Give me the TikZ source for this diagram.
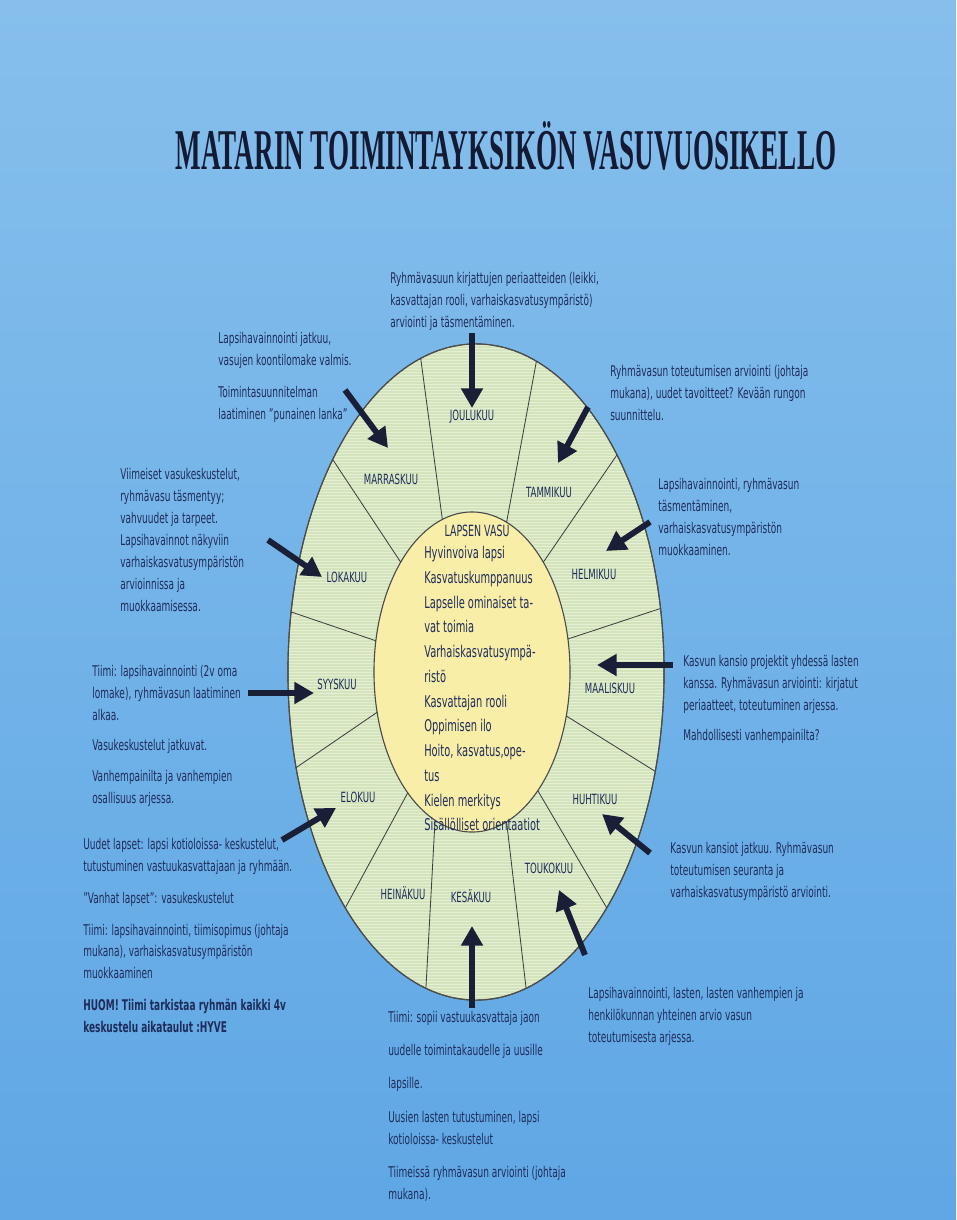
\documentclass[tikz,border=0pt]{standalone}
\usepackage{fontspec}
\setmainfont{DejaVu Sans}[FakeStretch=0.61]
\newfontfamily\titlefont{Liberation Serif}[FakeStretch=0.47]
\usetikzlibrary{arrows.meta, shapes.geometric}

\definecolor{skytop}{HTML}{86BFEC}
\definecolor{skybottom}{HTML}{5FA7E5}
\definecolor{ringgreen}{HTML}{D3E4BC}
\definecolor{ringstripe}{HTML}{E4EFD3}
\definecolor{hubyellow}{HTML}{F8EEA8}
\definecolor{inktext}{HTML}{1F2C5A}
\definecolor{inkarrow}{HTML}{1A1F38}
\definecolor{inktitle}{HTML}{141A33}

\begin{document}
\begin{tikzpicture}[x=0.025cm, y=-0.025cm,
    infotext/.style={anchor=north west, align=left, inner sep=0pt, text=inktext,
      font=\fontsize{10.5}{15.6}\selectfont},
    monthlabel/.style={inner sep=0pt, text=inktext, font=\fontsize{10}{12}\selectfont},
    bigarrow/.style={draw=inkarrow, line width=4.2pt, -{Triangle[length=14pt, width=15pt]}},
    spoke/.style={draw=black!75, line width=0.6pt}]

  % page
  \fill[top color=skytop, bottom color=skybottom] (0,0) rectangle (956,1220);
  \useasboundingbox (0,0) rectangle (956,1220);

  \node (title) [text=inktitle, inner sep=0pt] at (506,146)
    {\titlefont\bfseries\fontsize{41}{41}\selectfont MATARIN TOIMINTAYKSIKÖN VASUVUOSIKELLO};

  % the clock
  \node (ring) [ellipse, draw=black!70, line width=0.8pt, fill=ringgreen,
    minimum width=9.4cm, minimum height=16.4cm, inner sep=0pt, outer sep=0pt] at (476,672) {};
  \begin{scope}
    \clip (476,672) ellipse [x radius=4.68cm, y radius=8.18cm];
    \foreach \y in {345,348,...,1000}
      \draw[ringstripe, line width=0.6pt] (280,\y) -- (670,\y);
  \end{scope}
  \draw[black!70, line width=0.8pt] (ring.center) ellipse [x radius=4.7cm, y radius=8.2cm];
  \node (hub) [ellipse, draw=black!70, line width=0.8pt, fill=hubyellow,
    minimum width=4.9cm, minimum height=8cm, inner sep=0pt, outer sep=0pt] at (472,672) {};

  \foreach \outer/\inner in {100.5/101, 79.3/77.4, 57.6/57.8, 19.7/19.5, 331.3/335.4,
      299.2/299.3, 279.7/283.9, 261.8/256.1, 241/242.9, 208.3/203.8, 162/162.1, 124.4/123.4}
    \draw[spoke] (hub.\inner) -- (ring.\outer);

  % months
  \node (joulukuu)  [monthlabel] at (472,417) {JOULUKUU};
  \node (tammikuu)  [monthlabel] at (549,492) {TAMMIKUU};
  \node (helmikuu)  [monthlabel] at (594,574) {HELMIKUU};
  \node (maaliskuu) [monthlabel] at (610,688) {MAALISKUU};
  \node (huhtikuu)  [monthlabel] at (595,799) {HUHTIKUU};
  \node (toukokuu)  [monthlabel] at (549,868) {TOUKOKUU};
  \node (kesakuu)   [monthlabel] at (471,896) {KESÄKUU};
  \node (heinakuu)  [monthlabel] at (403,893) {HEINÄKUU};
  \node (elokuu)    [monthlabel] at (358,797) {ELOKUU};
  \node (syyskuu)   [monthlabel] at (337,684) {SYYSKUU};
  \node (lokakuu)   [monthlabel] at (347,577) {LOKAKUU};
  \node (marraskuu) [monthlabel] at (391,479) {MARRASKUU};

  % centre
  \node (vasutitle) [monthlabel, font=\fontsize{11}{12}\selectfont] at (477,531) {LAPSEN VASU};
  \node (vasulist) [infotext, font=\fontsize{11.5}{17.6}\selectfont] at (424,546)
    {Hyvinvoiva lapsi\\ Kasvatuskumppanuus\\ Lapselle ominaiset ta-\\ vat toimia\\
     Varhaiskasvatusympä-\\ ristö\\ Kasvattajan rooli\\ Oppimisen ilo\\
     Hoito, kasvatus,ope-\\ tus\\ Kielen merkitys\\ Sisällölliset orientaatiot};

  % notes
  \node (note-joulu) [infotext] at (390,272)
    {Ryhmävasuun kirjattujen periaatteiden (leikki,\\ kasvattajan rooli, varhaiskasvatusympäristö)\\
     arviointi ja täsmentäminen.};
  \node (note-marras) [infotext] at (218,332)
    {Lapsihavainnointi jatkuu,\\ vasujen koontilomake valmis.\\[7pt]
     Toimintasuunnitelman\\ laatiminen ”punainen lanka”};
  \node (note-tammi) [infotext] at (610,365)
    {Ryhmävasun toteutumisen arviointi (johtaja\\ mukana), uudet tavoitteet? Kevään rungon\\ suunnittelu.};
  \node (note-helmi) [infotext] at (658,478)
    {Lapsihavainnointi, ryhmävasun\\ täsmentäminen,\\ varhaiskasvatusympäristön\\ muokkaaminen.};
  \node (note-loka) [infotext] at (120,468)
    {Viimeiset vasukeskustelut,\\ ryhmävasu täsmentyy;\\ vahvuudet ja tarpeet.\\ Lapsihavainnot näkyviin\\
     varhaiskasvatusympäristön\\ arvioinnissa ja\\ muokkaamisessa.};
  \node (note-syys) [infotext] at (92,665)
    {Tiimi: lapsihavainnointi (2v oma\\ lomake), ryhmävasun laatiminen\\ alkaa.\\[6pt]
     Vasukeskustelut jatkuvat.\\[6pt] Vanhempainilta ja vanhempien\\ osallisuus arjessa.};
  \node (note-maalis) [infotext] at (683,655)
    {Kasvun kansio projektit yhdessä lasten\\ kanssa. Ryhmävasun arviointi: kirjatut\\
     periaatteet, toteutuminen arjessa.\\[6pt] Mahdollisesti vanhempainilta?};
  \node (note-elo) [infotext] at (83,838)
    {Uudet lapset: lapsi kotioloissa- keskustelut,\\ tutustuminen vastuukasvattajaan ja ryhmään.\\[7pt]
     ”Vanhat lapset”: vasukeskustelut\\[7pt]
     Tiimi: lapsihavainnointi, tiimisopimus (johtaja\\ mukana), varhaiskasvatusympäristön\\ muokkaaminen\\[7pt]
     \bfseries HUOM! Tiimi tarkistaa ryhmän kaikki 4v\\ \bfseries keskustelu aikataulut :HYVE};
  \node (note-huhti) [infotext] at (670,842)
    {Kasvun kansiot jatkuu. Ryhmävasun\\ toteutumisen seuranta ja\\ varhaiskasvatusympäristö arviointi.};
  \node (note-touko) [infotext] at (588,987)
    {Lapsihavainnointi, lasten, lasten vanhempien ja\\ henkilökunnan yhteinen arvio vasun\\ toteutumisesta arjessa.};
  \node (note-kesa) [infotext] at (388,1011)
    {Tiimi: sopii vastuukasvattaja jaon\\[8pt] uudelle toimintakaudelle ja uusille\\[8pt] lapsille.\\[8pt]
     Uusien lasten tutustuminen, lapsi\\ kotioloissa- keskustelut\\[8pt]
     Tiimeissä ryhmävasun arviointi (johtaja\\ mukana).};

  % arrows
  \coordinate (t-joulu)  at (472,333);  \coordinate (h-joulu)  at (472,408);
  \coordinate (t-marras) at (345,390);  \coordinate (h-marras) at (388,448);
  \coordinate (t-tammi)  at (588,407);  \coordinate (h-tammi)  at (558,463);
  \coordinate (t-helmi)  at (650,522);  \coordinate (h-helmi)  at (606,551);
  \coordinate (t-loka)   at (268,540);  \coordinate (h-loka)   at (322,577);
  \coordinate (t-syys)   at (248,693);  \coordinate (h-syys)   at (314,693);
  \coordinate (t-maalis) at (673,665);  \coordinate (h-maalis) at (597,665);
  \coordinate (t-elo)    at (282,840);  \coordinate (h-elo)    at (336,808);
  \coordinate (t-huhti)  at (650,853);  \coordinate (h-huhti)  at (602,814);
  \coordinate (t-touko)  at (585,955);  \coordinate (h-touko)  at (559,890);
  \coordinate (t-kesa)   at (472,1008); \coordinate (h-kesa)   at (472,926);

  \foreach \m in {joulu, marras, tammi, helmi, loka, syys, maalis, elo, huhti, touko, kesa}
    \draw[bigarrow] (t-\m) -- (h-\m);
\end{tikzpicture}
\end{document}
